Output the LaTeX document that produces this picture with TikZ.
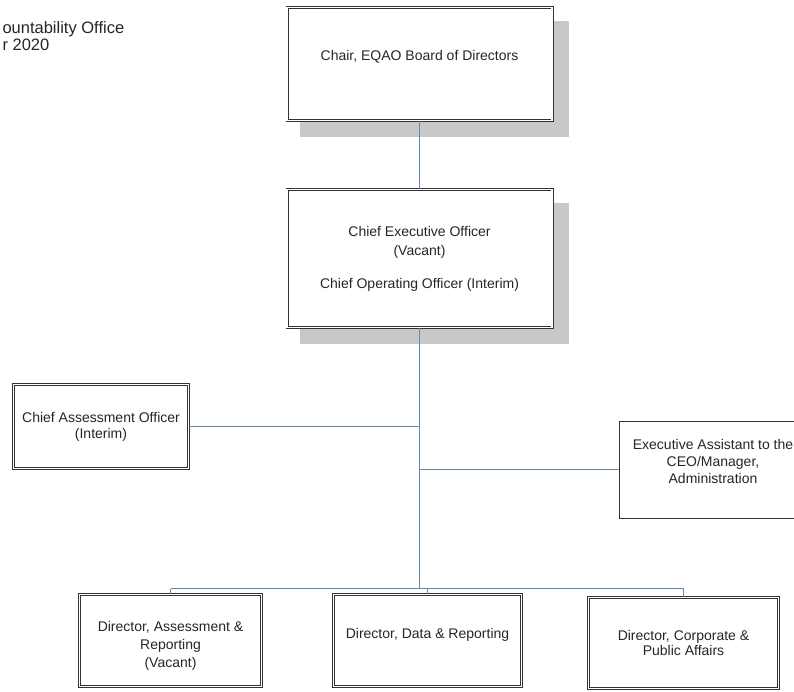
\documentclass[tikz,border=0pt]{standalone}
\usepackage{fontspec}
\setmainfont{Liberation Sans}
\usetikzlibrary{calc,positioning,backgrounds}
\definecolor{linkblue}{RGB}{104,134,170}
\definecolor{dropgrey}{RGB}{200,200,200}

\begin{document}
\begin{tikzpicture}[x=1pt,y=-1pt,
    every node/.style={font=\fontsize{14}{17}\selectfont, align=center, text=black!85},
    post/.style={draw=black!80, line width=0.7pt, double=white, double distance=1.6pt,
        fill=white, inner sep=0pt},
    plainpost/.style={draw=black!80, line width=0.9pt, fill=white, inner sep=0pt},
    drop/.style={fill=dropgrey},
    link/.style={draw=linkblue, line width=1.1pt}]

    \useasboundingbox (0,0) rectangle (794,691);

    % heading, cut at the left edge
    \node[anchor=west, align=left, font=\fontsize{16.5}{17}\selectfont] (heading) at (-1,36.5)
        {ountability Office\\r 2020};

    % top of the chart
    \node[post, minimum width=265pt, minimum height=113pt] (chair) at (419.5,64)
        {Chair, EQAO Board of Directors\\[1pt]\mbox{}};
    \node[post, minimum width=265pt, minimum height=138pt] (ceo) at (419.5,258.5)
        {Chief Executive Officer\\[2pt](Vacant)\\[16pt]Chief Operating Officer (Interim)};

    % side posts
    \node[post, minimum width=175pt, minimum height=84pt] (cao) at (101,426.5)
        {Chief Assessment Officer\\[-1pt](Interim)};
    \node[plainpost, minimum width=188pt, minimum height=97pt] (exec) at (713,469.5)
        {Executive Assistant to the\\CEO/Manager,\\Administration\\[-1pt]\mbox{}};

    % directors
    \node[post, minimum width=182pt, minimum height=92pt] (dir1) at (170.5,640.5)
        {\mbox{}\\[4pt]Director, Assessment \&\\[1pt]Reporting\\[1pt](Vacant)};
    \node[post, minimum width=188pt, minimum height=92pt] (dir2) at (427.5,640.5)
        {Director, Data \& Reporting\\[-2pt]\mbox{}};
    \node[post, minimum width=190pt, minimum height=91pt] (dir3) at (683.5,643)
        {Director, Corporate \&\\[-2pt]Public Affairs};

    \begin{scope}[on background layer]
        \foreach \n in {chair,ceo}
            {\fill[drop] ($(\n.south west)+(13.5,16.5)$) rectangle ($(\n.north east)+(16.5,13.5)$);}
    \end{scope}

    \coordinate (bus) at (419.5,588.5);

    \draw[link] (chair.south) -- (ceo.north);
    \draw[link] (ceo.south) -- (bus);
    \draw[link] (cao.east) -- (cao.east -| bus);
    \draw[link] (exec.west) -- (exec.west -| bus);

    \draw[link] (dir1.north |- bus) -- (dir3.north |- bus);
    \foreach \d in {dir1,dir2,dir3} {\draw[link] (\d.north) -- (\d.north |- bus);};
\end{tikzpicture}
\end{document}
